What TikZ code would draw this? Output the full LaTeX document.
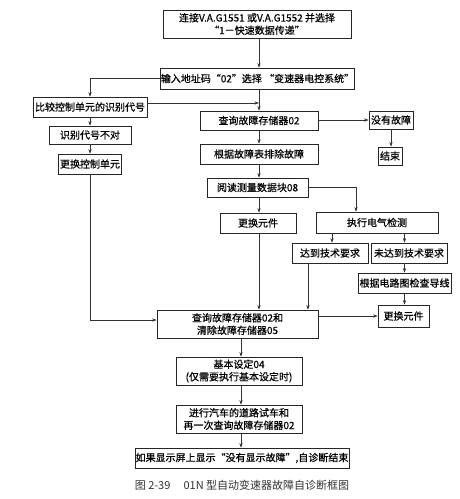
\documentclass[tikz,border=0pt]{standalone}
\usepackage{fontspec}
\setmainfont{Noto Sans CJK SC}
\newfontfamily\bxf[FakeBold=0.6]{Noto Sans CJK SC}
\usetikzlibrary{arrows.meta,calc}
\tikzset{
  bx/.style={draw=black!85,line width=0.7pt,inner sep=0pt,align=center,font=\bxf\fontsize{10pt}{12.5pt}\selectfont,text=black},
  arr/.style={draw=black!80,line width=0.6pt,-{Stealth[length=4.5pt,width=3.2pt]}},
  ln/.style={draw=black!80,line width=0.6pt}
}
\begin{document}
\begin{tikzpicture}[x=1pt,y=-1pt]
\useasboundingbox[fill=white] (0,0) rectangle (460,499);
\coordinate (spine) at (259,0);
\coordinate (spineb) at (241,0);
\node[bx,minimum width=188pt,minimum height=28pt] (b1) at (257,24) {连接V.A.G1551 或V.A.G1552 并选择\\“1－快速数据传递”};
\node[bx,minimum width=173pt,minimum height=21pt] (b2) at (257.5,78.5) {输入地址码“02”选择 “变速器电控系统”};
\node[bx,minimum width=114pt,minimum height=20pt] (b3) at (90,107) {比较控制单元的识别代号};
\node[bx,minimum width=118pt,minimum height=19pt] (b4) at (259,120.5) {查询故障存储器02};
\node[bx,minimum width=44pt,minimum height=18pt] (nof) at (391,120) {没有故障};
\node[bx,minimum width=24pt,minimum height=18pt] (fin) at (390,156) {结束};
\node[bx,minimum width=82pt,minimum height=18pt] (wrong) at (90,135) {识别代号不对};
\node[bx,minimum width=63pt,minimum height=20pt] (rctl) at (90,164) {更换控制单元};
\node[bx,minimum width=118pt,minimum height=20pt] (troub) at (259,154) {根据故障表排除故障};
\node[bx,minimum width=101pt,minimum height=19pt] (read) at (257.5,187.5) {阅读测量数据块08};
\node[bx,minimum width=76pt,minimum height=20pt] (rep1) at (258,223) {更换元件};
\node[bx,minimum width=122pt,minimum height=21pt] (elec) at (377,222.5) {执行电气检测};
\node[bx,minimum width=76pt,minimum height=20pt] (ok) at (330,253) {达到技术要求};
\node[bx,minimum width=76pt,minimum height=20pt] (nok) at (409,253) {未达到技术要求};
\node[bx,minimum width=93pt,minimum height=20pt] (wire) at (404.5,283) {根据电路图检查导线};
\node[bx,minimum width=51pt,minimum height=22pt] (rep2) at (403.5,316) {更换元件};
\node[bx,minimum width=161pt,minimum height=28pt] (clr) at (237.5,324) {查询故障存储器02和\\清除故障存储器05};
\node[bx,minimum width=126pt,minimum height=28pt] (basic) at (239,371) {基本设定04\\(仅需要执行基本设定时)};
\node[bx,minimum width=126pt,minimum height=28pt] (road) at (239,419) {进行汽车的道路试车和\\再一次查询故障存储器02};
\node[bx,minimum width=214pt,minimum height=20pt] (final) at (242,458) {如果显示屏上显示“没有显示故障”,自诊断结束};
\node[font=\fontsize{11pt}{13pt}\selectfont,text=black!80] (cap) at (242,485) {图 2-39\hspace{1.2em}01N 型自动变速器故障自诊断框图};
% connectors
\draw[arr] (b1.south -| spine) -- (b2.north -| spine);
\draw[arr] (b2.west) -| (b3.north);
\draw[arr] (b2.south -| spine) -- (b4.north -| spine);
\draw[arr] ([yshift=4pt]b3.east) -- ([yshift=4pt]b3.east -| spine);
\draw[arr] (b4.east |- nof) -- (nof.west);
\draw[arr] (nof.south) -- (nof.south |- fin.north);
\draw[arr] (b3.south) -- (wrong.north);
\draw[arr] (wrong.south) -- (rctl.north);
\draw[arr] (b4.south -| spine) -- (troub.north -| spine);
\draw[arr] (troub.south -| spine) -- (read.north -| spine);
\draw[arr] (read.east) -| ([xshift=-21pt]elec.north);
\draw[arr] (read.south -| spine) -- (rep1.north -| spine);
\draw[arr] ([xshift=2pt]elec.south -| ok) -- ([xshift=2pt]ok.north);
\draw[arr] (elec.south -| wire) -- (nok.north -| wire);
\draw[arr] (nok.south -| wire) -- (wire.north);
\draw[arr] (wire.south) -- (wire.south |- rep2.north);
\draw[arr] (rep1.south -| spine) -- (clr.north -| spine);
\draw[arr] ([xshift=-22pt]ok.south) -- ([xshift=-22pt]ok.south |- clr.north);
\draw[arr] (rctl.south) |- ([yshift=4pt]clr.west);
\draw[arr] (clr.east |- rep2) -- (rep2.west);
\draw[arr] (clr.south -| spineb) -- (basic.north -| spineb);
\draw[arr] (basic.south -| spineb) -- (road.north -| spineb);
\draw[arr] (road.south -| spineb) -- (final.north -| spineb);
\end{tikzpicture}
\end{document}
